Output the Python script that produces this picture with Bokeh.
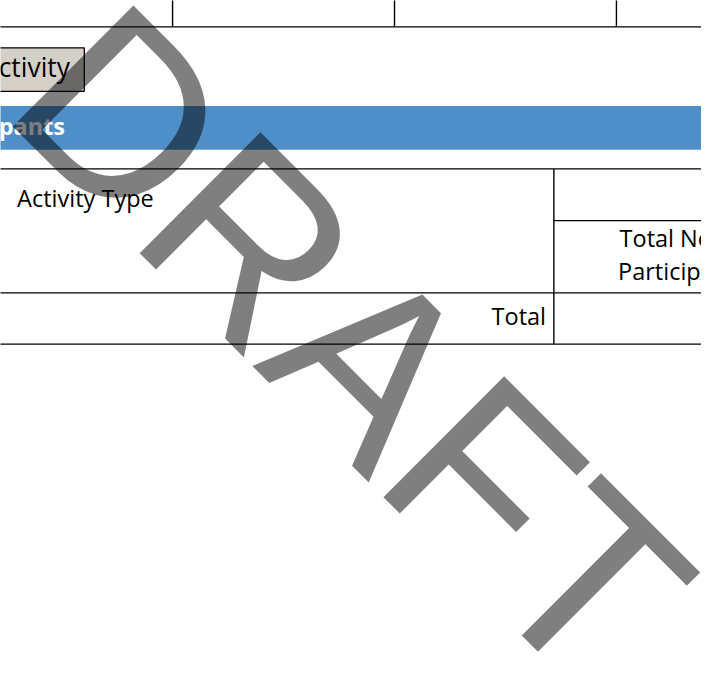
import math
from bokeh.plotting import figure
from bokeh.models import Range1d
from bokeh.core.properties import value
from bokeh.embed import file_html
from bokeh.resources import INLINE

# ---- content ----
button_label = ["Activity"]
section_title = ["Participants"]
header_left = ["Activity Type"]
header_right_lines = ["Total No. of", "Participants"]
total_label = ["Total"]
watermark = ["DRAFT"]

# ---- layout (reference pixel coordinates, y grows downward) ----
h_y = [27, 172.5, 225.5, 299.5, 352]
h_x0 = [-10, -10, 566, -10, -10]
h_x1 = [730, 730, 730, 730, 730]
v_x = [176, 403, 630, 566]
v_y0 = [-10, -10, -10, 172.5]
v_y1 = [27, 27, 27, 352]

W, H = 701, 658
RW, RH = 717, 674
k = W / RW


def fs(px):
    return f"{px * k:.1f}px"


def base(y, px):
    # renderer places the alphabetic baseline ~0.39em lower; compensate
    return y - 0.39 * px


p = figure(width=W, height=H, output_backend="svg", toolbar_location=None,
           x_range=Range1d(0, RW), y_range=Range1d(RH, 0),
           x_axis_location=None, y_axis_location=None, min_border=0,
           background_fill_color="white", border_fill_color="white")
p.outline_line_color = None
p.xgrid.visible = False
p.ygrid.visible = False

# blue section band
p.quad(left=[-10], right=[730], top=[108], bottom=[153],
       fill_color="#4e8fc8", line_color=None)
p.text(x=[66], y=[base(137.5, 24)], text=section_title, text_color="white",
       text_font=value("Open Sans"), text_font_size=fs(24), text_font_style="bold",
       text_align="right", text_baseline="alphabetic")

# button
p.quad(left=[-10], right=[85.7], top=[48.5], bottom=[93],
       fill_color="#d4d0c8", line_color="black", line_width=1.3)
p.text(x=[71], y=[base(78.5, 27)], text=button_label, text_color="black",
       text_font=value("Open Sans"), text_font_size=fs(27),
       text_align="right", text_baseline="alphabetic")

# table lines
p.segment(x0=h_x0, y0=h_y, x1=h_x1, y1=h_y, line_color="black", line_width=1.4)
p.segment(x0=v_x, y0=v_y0, x1=v_x, y1=v_y1, line_color="black", line_width=1.4)

# table texts
p.text(x=[17], y=[base(211.5, 24)], text=header_left, text_color="black",
       text_font=value("Open Sans"), text_font_size=fs(24),
       text_align="left", text_baseline="alphabetic")
p.text(x=[698, 698], y=[base(252.5, 24), base(286, 24)], text=header_right_lines,
       text_color="black", text_font=value("Open Sans"), text_font_size=fs(24),
       text_align="center", text_baseline="alphabetic")
p.text(x=[558], y=[base(332.5, 24)], text=total_label, text_color="black",
       text_font=value("Open Sans"), text_font_size=fs(24),
       text_align="right", text_baseline="alphabetic")

# watermark
p.text(x=[60], y=[52], text=watermark, angle=-math.pi / 4,
       text_color="black", text_alpha=0.5,
       text_font=value("Liberation Sans"), text_font_size=fs(254),
       text_align="left", text_baseline="alphabetic")

open("out.html", "w").write(file_html(p, INLINE))
